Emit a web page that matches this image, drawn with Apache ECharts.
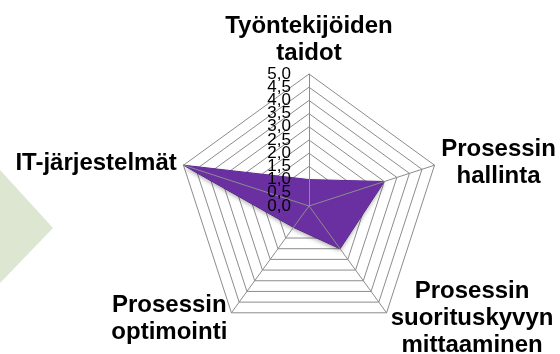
<!DOCTYPE html>
<html>
<head>
<meta charset="utf-8">
<script src="https://cdn.jsdelivr.net/npm/echarts@6/dist/echarts.min.js"></script>
<style>
    html, body {margin: 0; padding: 0; background: #ffffff;}
    #radar-map {width: 560px; height: 354px;}
</style>
</head>
<body>
<div id="radar-map"></div>
<script>
// indicators in ECharts order (counter-clockwise from the top)
const indicators = ['Työntekijöiden\ntaidot', 'IT-järjestelmät', 'Prosessin\noptimointi',
    'Prosessin\nsuorituskyvyn\nmittaaminen', 'Prosessin\nhallinta'];
const scores = [1.0, 5.0, 1.0, 2.0, 3.0];
const tickLabels = ['0,0', '0,5', '1,0', '1,5', '2,0', '2,5', '3,0', '3,5', '4,0', '4,5', '5,0'];
const maxValue = 5;

const font = '"Liberation Sans", Arial, sans-serif';
const gridColor = '#8c8c8c';

// shared geometry of all radar layers
let base = {
    center: [309, 206],
    radius: 132,
    startAngle: 90,
    splitNumber: 10,
    shape: 'polygon'
};

let labelStyle = {
    show: true,
    color: '#000000',
    fontFamily: font,
    fontSize: 17,
    margin: 18,
    hideOverlap: false
};

// an overlay layer that only draws tick labels (and optionally spokes) on the first axis
let overlay = (extra, labelOpt) => Object.assign({}, base, {
    z: 10,
    axisName: {show: false},
    axisLine: {show: false},
    splitLine: {show: false},
    splitArea: {show: false},
    axisTick: {show: false},
    axisLabel: {show: false},
    indicator: indicators.map((name, i) => {
        let item = {name: '', min: 0, max: maxValue};
        if (i === 0) {
            item.axisLabel = Object.assign({}, labelStyle, labelOpt);
        }
        return item;
    })
}, extra);

let option = {
    backgroundColor: '#ffffff',
    animation: false,
    graphic: [
        {
            // light green arrow tip from the slide behind the chart
            type: 'polygon',
            z: -10,
            shape: {points: [[0, 170], [53, 228], [0, 283]]},
            style: {fill: '#dce6d0'}
        }
    ],
    radar: [
        Object.assign({}, base, {
            nameGap: 7,
            axisName: {
                color: '#000000',
                fontFamily: font,
                fontSize: 24,
                fontWeight: 'bold',
                lineHeight: 27,
                formatter: (name) => {
                    return name.split('\n').map(s => '{c|' + s + '}').join('\n');
                },
                rich: {
                    c: {
                        align: 'center',
                        color: '#000000',
                        fontFamily: font,
                        fontSize: 24,
                        fontWeight: 'bold',
                        lineHeight: 27
                    }
                }
            },
            axisLine: {show: false},
            splitLine: {
                lineStyle: {color: gridColor, width: 1}
            },
            splitArea: {show: false},
            axisTick: {show: false},
            axisLabel: {show: false},
            indicator: indicators.map(name => ({name: name, min: 0, max: maxValue}))
        }),
        // spokes over the filled area + the inner tick labels (0,5 ... 4,5)
        overlay({
            axisLine: {lineStyle: {color: gridColor, width: 1}}
        }, {
            showMinLabel: false,
            showMaxLabel: false,
            formatter: (v, idx) => tickLabels[idx]
        }),
        // end tick labels (0,0 and 5,0)
        overlay({splitNumber: 1}, {
            showMinLabel: true,
            showMaxLabel: true,
            formatter: (v, idx) => idx === 0 ? tickLabels[0] : tickLabels[tickLabels.length - 1]
        })
    ],
    series: [
        {
            type: 'radar',
            radarIndex: 0,
            symbol: 'none',
            data: [
                {
                    value: scores,
                    lineStyle: {color: '#5a2890', width: 1},
                    areaStyle: {
                        color: '#6a30a2',
                        opacity: 1,
                        shadowBlur: 4,
                        shadowOffsetY: 2,
                        shadowColor: 'rgba(0,0,0,0.35)'
                    }
                }
            ]
        }
    ]
};

let radarMap = echarts.init(document.getElementById('radar-map'));
radarMap.setOption(option);
</script>
</body>
</html>
